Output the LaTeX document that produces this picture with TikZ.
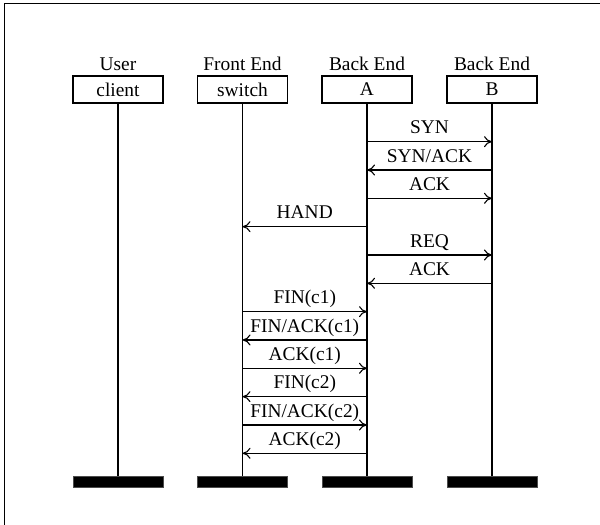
\documentclass[tikz,border=0pt]{standalone}
\usepackage{fontspec}
\setmainfont{Liberation Serif}
\usetikzlibrary{arrows.meta}
\begin{document}
\begin{tikzpicture}[x=1pt,y=-1pt,
  every node/.style={font=\fontsize{19.4}{23}\selectfont},
  objbox/.style={draw, line width=1.2pt, minimum width=90pt, minimum height=27pt, inner sep=0pt},
  lifeline/.style={line width=1.3pt},
  msg/.style={line width=1.1pt, -{To[length=8pt,width=11pt]}},
  bar/.style={fill=black, draw=black!70, line width=0.8pt, minimum width=90pt, minimum height=11pt, inner sep=0pt},
  lbl/.style={anchor=base, inner sep=0pt}
]
\useasboundingbox (0,0) rectangle (600,525);
\draw[line width=1.5pt] (4.5,525) -- (4.5,3.5) -- (600,3.5);

% headers
\node[lbl] (hu) at (118,70) {User};
\node[lbl] (hf) at (242.5,70) {Front End};
\node[lbl] (ha) at (367,70) {Back End};
\node[lbl] (hb) at (492,70) {Back End};

% boxes
\node[objbox] (client) at (118,89.5) {client};
\node[objbox] (switch) at (242.5,89.5) {switch};
\node[objbox] (A) at (367,89.5) {A};
\node[objbox] (B) at (492,89.5) {B};

% bars
\node[bar] (cbar) at (118,481.5) {};
\node[bar] (sbar) at (242.5,481.5) {};
\node[bar] (abar) at (367,481.5) {};
\node[bar] (bbar) at (492,481.5) {};

% lifelines
\draw[lifeline] (client.south) -- (cbar.north);
\draw[lifeline] (switch.south) -- (sbar.north);
\draw[lifeline] (A.south) -- (abar.north);
\draw[lifeline] (B.south) -- (bbar.north);

% message anchor points
\foreach \i in {1,...,12}{
  \coordinate (s\i) at (242.5,{113.33+28.33*\i});
  \coordinate (a\i) at (367,{113.33+28.33*\i});
  \coordinate (b\i) at (492,{113.33+28.33*\i});
}

\draw[msg] (a1) -- node[lbl, yshift=7.7pt] {SYN} (b1);
\draw[msg] (b2) -- node[lbl, yshift=7.7pt] {SYN/ACK} (a2);
\draw[msg] (a3) -- node[lbl, yshift=7.7pt] {ACK} (b3);
\draw[msg] (a4) -- node[lbl, yshift=7.7pt] {HAND} (s4);
\draw[msg] (a5) -- node[lbl, yshift=7.7pt] {REQ} (b5);
\draw[msg] (b6) -- node[lbl, yshift=7.7pt] {ACK} (a6);
\draw[msg] (s7) -- node[lbl, yshift=7.7pt] {FIN(c1)} (a7);
\draw[msg] (a8) -- node[lbl, yshift=7.7pt] {FIN/ACK(c1)} (s8);
\draw[msg] (s9) -- node[lbl, yshift=7.7pt] {ACK(c1)} (a9);
\draw[msg] (a10) -- node[lbl, yshift=7.7pt] {FIN(c2)} (s10);
\draw[msg] (s11) -- node[lbl, yshift=7.7pt] {FIN/ACK(c2)} (a11);
\draw[msg] (a12) -- node[lbl, yshift=7.7pt] {ACK(c2)} (s12);
\end{tikzpicture}
\end{document}
